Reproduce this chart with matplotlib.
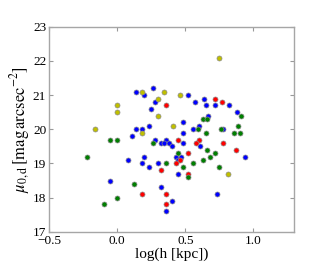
import matplotlib
matplotlib.use('Agg')
import matplotlib.pyplot as plt

# log(h [kpc]) and central surface brightness, one pair of lists per group
blue_logh = [0.14, 0.26, 0.20, 0.52, 0.64, 0.57, 0.28, 0.72, 0.82, 0.25, 0.65,
             0.88, 0.67, 0.48, 0.23, 0.60, 0.14, 0.18, 0.56, 0.78, 0.11, 0.48,
             0.28, 0.36, 0.32, 0.34, 0.38, 0.48, 0.40, 0.61, 0.20, 0.43, 0.47,
             0.94, 0.08, 0.45, 0.18, 0.30, 0.23, 0.45, -0.05, 0.32, 0.40,
             0.73, 0.36]
blue_mu = [21.1, 21.2, 21.0, 21.0, 20.9, 20.8, 20.8, 20.7, 20.7, 20.6, 20.7,
           20.5, 20.4, 20.2, 20.1, 20.1, 20.0, 20.0, 20.0, 20.0, 19.8, 19.9,
           19.7, 19.7, 19.6, 19.6, 19.6, 19.6, 19.5, 19.5, 19.2, 19.2, 19.2,
           19.2, 19.1, 19.1, 19.0, 19.0, 18.9, 18.7, 18.5, 18.3, 17.9,
           18.1, 17.6]

red_logh = [0.72, 0.77, 0.36, 0.45, 0.60, 0.58, 0.78, 0.87, 0.52, 0.46,
            0.43, 0.32, 0.52, 0.18, 0.36, 0.36]
red_mu = [20.9, 20.8, 20.7, 19.7, 19.7, 19.6, 19.6, 19.4, 19.3, 19.1,
          19.0, 18.8, 18.7, 18.1, 18.1, 17.8]

green_logh = [-0.22, -0.10, -0.05, 0.00, 0.00, 0.12, 0.26, 0.36, 0.45, 0.48,
              0.52, 0.56, 0.63, 0.66, 0.59, 0.65, 0.66, 0.68, 0.63, 0.72,
              0.75, 0.76, 0.86, 0.89, 0.90, 0.91]
green_mu = [19.2, 17.8, 19.7, 19.7, 18.0, 18.4, 19.6, 19.0, 19.3, 18.9,
            18.6, 19.0, 20.3, 20.3, 20.0, 19.9, 19.4, 19.2, 19.1, 19.3,
            18.9, 20.0, 19.9, 20.1, 19.9, 20.4]

yellow_logh = [0.75, 0.18, 0.34, 0.46, 0.30, 0.00, 0.00, 0.30, 0.41, -0.16,
               0.18, 0.81]
yellow_mu = [22.1, 21.1, 21.1, 21.0, 20.9, 20.7, 20.5, 20.4, 20.1, 20.0,
             19.9, 18.7]

plt.rcParams['font.family'] = 'serif'
plt.rcParams['font.serif'] = ['Liberation Serif', 'DejaVu Serif']
plt.rcParams['mathtext.fontset'] = 'stix'

fig = plt.figure(figsize=(3.27, 2.73), dpi=100)
ax = fig.add_axes([0.15, 0.151, 0.75, 0.751])

for xs, ys, c in [(blue_logh, blue_mu, '#0000ff'),
                  (red_logh, red_mu, '#ff0000'),
                  (green_logh, green_mu, '#007f00'),
                  (yellow_logh, yellow_mu, '#bfbf00')]:
    ax.scatter(xs, ys, s=13, c=c, edgecolors='0.55', linewidths=0.5, zorder=3)

ax.set_xlim(-0.5, 1.3)
ax.set_ylim(17, 23)
ax.set_xticks([-0.5, 0.0, 0.5, 1.0])
ax.set_yticks([17, 18, 19, 20, 21, 22, 23])
ax.set_xticklabels([u'\u22120.5', '0.0', '0.5', '1.0'])

for sp in ax.spines.values():
    sp.set_color('0.65')
    sp.set_linewidth(1.0)
ax.tick_params(direction='in', top=True, right=True, length=3, color='0.6',
               labelsize=9.5, pad=2)

ax.set_xlabel('log(h [kpc])', fontsize=11, labelpad=1)
ax.set_ylabel(r'$\mu_{0,\mathrm{d}}\,[\mathrm{mag\,arcsec^{-2}}]$', fontsize=12,
              labelpad=1)

fig.savefig('out.png', dpi=100)
